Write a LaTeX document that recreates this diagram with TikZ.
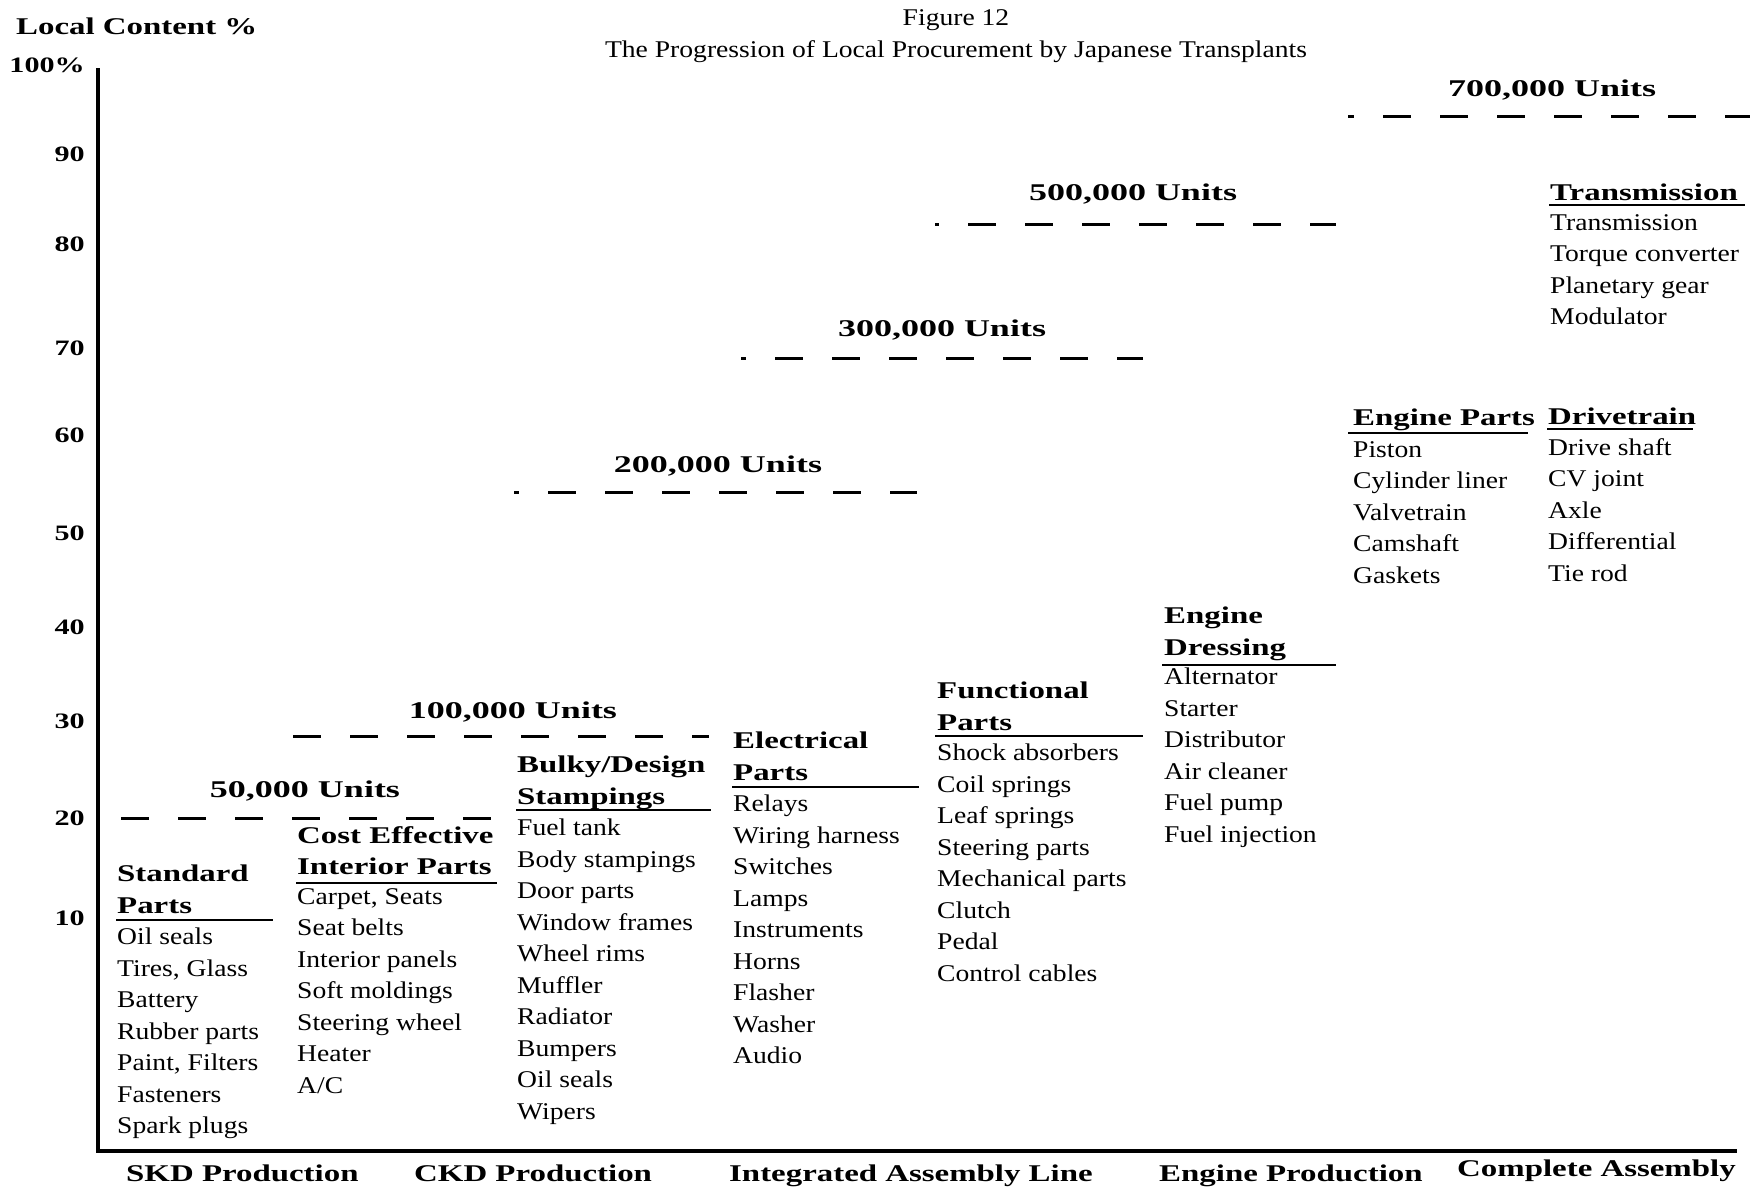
\documentclass[tikz,border=0pt]{standalone}
\usepackage{fontspec}
\setmainfont{Liberation Serif}[FakeStretch=1.15]
\newfontfamily\headfont{Liberation Serif}[FakeStretch=1.37]
\newfontfamily\unitfont{Liberation Serif}[FakeStretch=1.5]

\tikzset{
  axis/.style={line width=4.5pt},
  rule/.style={line width=2.2pt},
  level/.style={line width=3pt, dash pattern=on 28pt off 29pt},
  head/.style={anchor=north west, inner sep=0pt, align=left,
    font=\headfont\bfseries\fontsize{24}{31.5}\selectfont},
  item/.style={anchor=north west, inner sep=0pt, align=left,
    font=\fontsize{24}{31.5}\selectfont},
  units/.style={inner sep=0pt, text height=16pt, text depth=0pt,
    font=\unitfont\bfseries\fontsize{24}{30}\selectfont},
  tick/.style={anchor=east, inner sep=0pt, text height=15pt, text depth=0pt,
    font=\headfont\bfseries\fontsize{22}{30}\selectfont},
  stage/.style={anchor=west, inner sep=0pt, text height=16pt, text depth=0pt,
    font=\headfont\bfseries\fontsize{24}{30}\selectfont},
  caption/.style={inner sep=0pt, text height=16pt, text depth=0pt,
    font=\fontsize{24}{30}\selectfont}
}

\begin{document}
\begin{tikzpicture}[x=1pt, y=-1pt]
\useasboundingbox (0,0) rectangle (1753,1192);

% Draw the title
\node[caption] (fig) at (956,17) {Figure 12};
\node[caption] (title) at (956,49) {The Progression of Local Procurement by Japanese Transplants};

% Draw the axes
\draw[axis] (98,68) -- (98,1151) -- (1737,1151);
\node[stage] (ylabel) at (16,26) {Local Content \%};

% Draw the tick labels
\node[tick] (t100) at (85,65) {100\%};
\node[tick] (t90) at (85,154) {90};
\node[tick] (t80) at (85,244) {80};
\node[tick] (t70) at (85,348) {70};
\node[tick] (t60) at (85,435) {60};
\node[tick] (t50) at (85,533) {50};
\node[tick] (t40) at (85,627) {40};
\node[tick] (t30) at (85,721) {30};
\node[tick] (t20) at (85,818) {20};
\node[tick] (t10) at (85,918) {10};

% Draw the volume levels
\node[units] (u50) at (305,789) {50,000 Units};
\draw[level] (121,818) -- (492,818);
\node[units] (u100) at (513,710) {100,000 Units};
\draw[level] (293,736) -- (709,736);
\node[units] (u200) at (718,464) {200,000 Units};
\draw[level, dash phase=23pt] (514,492) -- (917,492);
\node[units] (u300) at (942,328) {300,000 Units};
\draw[level, dash phase=23pt] (741,358) -- (1143,358);
\node[units] (u500) at (1133,192) {500,000 Units};
\draw[level, dash phase=24pt] (935,224) -- (1336,224);
\node[units] (u700) at (1552,88) {700,000 Units};
\draw[level, dash phase=22pt] (1348,116) -- (1750,116);

% Draw the part groups
\node[head] (std) at (117,865) {Standard\\Parts};
\draw[rule] (116,920) -- (273,920);
\node[item] (stdlist) at (117,928) {Oil seals\\Tires, Glass\\Battery\\Rubber parts\\Paint, Filters\\Fasteners\\Spark plugs};

\node[head] (cost) at (297,826) {Cost Effective\\Interior Parts};
\draw[rule] (296,883) -- (497,883);
\node[item] (costlist) at (297,888) {Carpet, Seats\\Seat belts\\Interior panels\\Soft moldings\\Steering wheel\\Heater\\A/C};

\node[head] (bulky) at (517,756) {Bulky/Design\\Stampings};
\draw[rule] (516,810) -- (711,810);
\node[item] (bulkylist) at (517,819) {Fuel tank\\Body stampings\\Door parts\\Window frames\\Wheel rims\\Muffler\\Radiator\\Bumpers\\Oil seals\\Wipers};

\node[head] (elec) at (733,732) {Electrical\\Parts};
\draw[rule] (732,787) -- (919,787);
\node[item] (eleclist) at (733,795) {Relays\\Wiring harness\\Switches\\Lamps\\Instruments\\Horns\\Flasher\\Washer\\Audio};

\node[head] (func) at (937,682) {Functional\\Parts};
\draw[rule] (935,736) -- (1143,736);
\node[item] (funclist) at (937,744) {Shock absorbers\\Coil springs\\Leaf springs\\Steering parts\\Mechanical parts\\Clutch\\Pedal\\Control cables};

\node[head] (dress) at (1164,607) {Engine\\Dressing};
\draw[rule] (1162,665) -- (1336,665);
\node[item] (dresslist) at (1164,668) {Alternator\\Starter\\Distributor\\Air cleaner\\Fuel pump\\Fuel injection};

\node[head] (engine) at (1353,409) {Engine Parts};
\draw[rule] (1348,433) -- (1528,433);
\node[item] (enginelist) at (1353,441) {Piston\\Cylinder liner\\Valvetrain\\Camshaft\\Gaskets};

\node[head] (drive) at (1548,408) {Drivetrain};
\draw[rule] (1547,429) -- (1693,429);
\node[item] (drivelist) at (1548,438) {Drive shaft\\CV joint\\Axle\\Differential\\Tie rod};

\node[head] (trans) at (1550,184) {Transmission};
\draw[rule] (1549,205) -- (1745,205);
\node[item] (translist) at (1550,214) {Transmission\\Torque converter\\Planetary gear\\Modulator};

% Draw the production stages
\node[stage] (skd) at (126,1173) {SKD Production};
\node[stage] (ckd) at (414,1173) {CKD Production};
\node[stage] (line) at (729,1173) {Integrated Assembly Line};
\node[stage] (eng) at (1159,1173) {Engine Production};
\node[stage] (full) at (1457,1168) {Complete Assembly};
\end{tikzpicture}
\end{document}
